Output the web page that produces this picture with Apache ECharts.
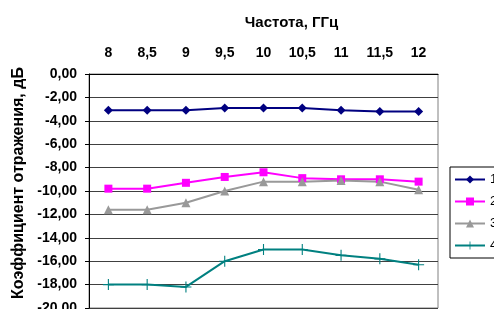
<!DOCTYPE html>
<html>
<head>
<meta charset="utf-8">
<script src="https://cdn.jsdelivr.net/npm/echarts@6/dist/echarts.min.js"></script>
<style>
html,body{margin:0;padding:0;background:#fff;}
#c{width:494px;height:309px;}
</style>
</head>
<body>
<div id="c"></div>
<script>
var categories = ['8', '8,5', '9', '9,5', '10', '10,5', '11', '11,5', '12'];
var seriesNames = ['1', '2', '3', '4'];
var s1 = [-3.1, -3.1, -3.1, -2.9, -2.9, -2.9, -3.1, -3.2, -3.2];
var s2 = [-9.8, -9.8, -9.3, -8.8, -8.4, -8.9, -9.0, -9.0, -9.2];
var s3 = [-11.6, -11.6, -11.0, -10.0, -9.2, -9.2, -9.1, -9.2, -9.9];
var s4 = [-18.0, -18.0, -18.2, -16.0, -15.0, -15.0, -15.5, -15.8, -16.3];
var xTitle = 'Частота, ГГц';
var yTitle = 'Коэффициент отражения, дБ';

var FONT = '"Liberation Sans", Arial, sans-serif';
var plus = 'path://M0,4.5H10V5.5H0Z M4.5,0H5.5V10H4.5Z';

var chart = echarts.init(document.getElementById('c'), null, {renderer: 'canvas'});
chart.setOption({
  animation: false,
  backgroundColor: '#fff',
  textStyle: {fontFamily: FONT},
  grid: {left: 89, right: 56, top: 74, bottom: 1, show: true, borderColor: '#808080', borderWidth: 1,
    containLabel: false, outerBoundsMode: 'none'},
  legend: {
    orient: 'vertical', left: 450, top: 167,
    data: seriesNames,
    itemWidth: 30, itemHeight: 10, itemGap: 9,
    padding: [6, 40, 6, 4],
    borderColor: '#000', borderWidth: 1,
    textStyle: {fontFamily: FONT, fontSize: 13, color: '#000'}
  },
  xAxis: {
    type: 'category', position: 'top', data: categories,
    name: xTitle, nameLocation: 'middle', nameGap: 44,
    nameTextStyle: {fontFamily: FONT, fontSize: 15, fontWeight: 'bold', color: '#000', padding: [0, 0, 0, 56]},
    axisLine: {lineStyle: {color: '#000', width: 1}},
    axisTick: {inside: true, length: 4, lineStyle: {color: '#000'}},
    axisLabel: {margin: 14, fontFamily: FONT, fontSize: 14, fontWeight: 'bold', color: '#000'},
    splitLine: {show: false}
  },
  yAxis: {
    type: 'value', min: -20, max: 0, interval: 2,
    name: yTitle, nameLocation: 'middle', nameGap: 57, nameRotate: 90,
    nameTextStyle: {fontFamily: FONT, fontSize: 16, fontWeight: 'bold', color: '#000', padding: [0, 0, 0, 16]},
    axisLine: {show: true, lineStyle: {color: '#000', width: 1}},
    axisTick: {show: true, length: 4, lineStyle: {color: '#000'}},
    axisLabel: {margin: 12, fontFamily: FONT, fontSize: 14, fontWeight: 'bold', color: '#000',
      formatter: function (v) { return v.toFixed(2).replace('.', ','); }},
    splitLine: {show: true, lineStyle: {color: '#404040', width: 1}}
  },
  series: [
    {name: seriesNames[0], type: 'line', data: s1, symbol: 'diamond', symbolSize: 9,
      itemStyle: {color: '#000080'}, lineStyle: {color: '#000080', width: 2}},
    {name: seriesNames[1], type: 'line', data: s2, symbol: 'rect', symbolSize: 8,
      itemStyle: {color: '#FF00FF'}, lineStyle: {color: '#FF00FF', width: 2}},
    {name: seriesNames[2], type: 'line', data: s3, symbol: 'triangle', symbolSize: 9,
      itemStyle: {color: '#999999'}, lineStyle: {color: '#999999', width: 2}},
    {name: seriesNames[3], type: 'line', data: s4, symbol: plus, symbolSize: 11,
      itemStyle: {color: '#008080'}, lineStyle: {color: '#008080', width: 2}}
  ]
});
</script>
</body>
</html>
